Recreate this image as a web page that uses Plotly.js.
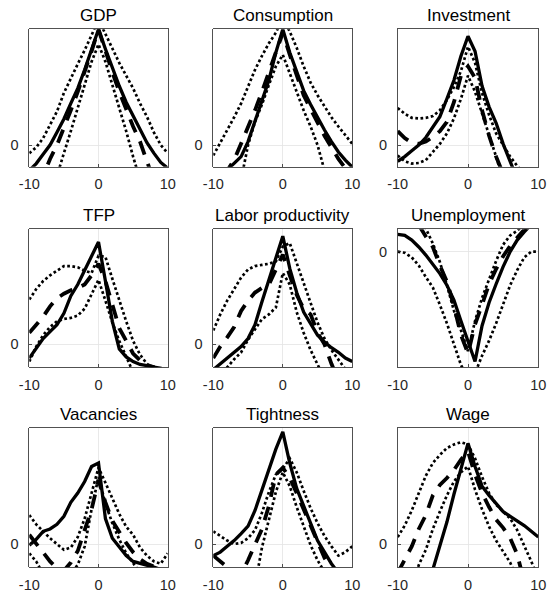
<!DOCTYPE html>
<html>
<head>
<meta charset="utf-8">
<script src="https://cdn.plot.ly/plotly-3.0.1.min.js"></script>
<style>
  html, body { margin: 0; padding: 0; background: #fff; }
  #chart { width: 556px; height: 597px; }
</style>
</head>
<body>
<div id="chart"></div>
<script>
// Lags (quarters)
const lags = [-10,-9,-8,-7,-6,-5,-4,-3,-2,-1,0,1,2,3,4,5,6,7,8,9,10];

// Panel titles
const titles = ["GDP","Consumption","Investment","TFP","Labor productivity","Unemployment","Vacancies","Tightness","Wage"];

// tick labels
const xTickVals = [-10, 0, 10];
const xTickText = ["-10", "0", "10"];
const yTickVals = [0];
const yTickText = ["0"];

// GDP
const gdpData  = [-0.22,-0.16,-0.08,0.0,0.11,0.225,0.36,0.49,0.65,0.83,1.0,0.83,0.66,0.51,0.37,0.25,0.13,0.02,-0.07,-0.15,-0.2];
const gdpModel = [-0.55,-0.4,-0.26,-0.12,0.0,0.14,0.3,0.46,0.63,0.81,1.0,0.81,0.63,0.46,0.3,0.16,0.03,-0.17,-0.33,-0.5,-0.65];
const gdpUpper = [-0.07,-0.02,0.06,0.17,0.29,0.45,0.58,0.7,0.82,0.96,1.08,0.96,0.83,0.71,0.6,0.49,0.36,0.245,0.11,0.0,-0.07];
const gdpLower = [-1.05,-0.85,-0.65,-0.45,-0.25,-0.07,0.12,0.33,0.52,0.72,0.87,0.72,0.52,0.33,0.12,-0.1,-0.32,-0.55,-0.75,-0.95,-1.1];

// Consumption
const conData  = [-0.33,-0.27,-0.21,-0.15,-0.1,0.03,0.2,0.37,0.56,0.8,1.0,0.8,0.63,0.47,0.35,0.235,0.13,0.03,-0.06,-0.13,-0.19];
const conModel = [-0.45,-0.33,-0.22,-0.13,0.01,0.155,0.3,0.46,0.63,0.8,0.97,0.78,0.6,0.43,0.31,0.19,0.08,-0.02,-0.12,-0.2,-0.28];
const conUpper = [-0.09,0.02,0.12,0.24,0.36,0.5,0.65,0.77,0.88,0.97,1.1,0.98,0.84,0.68,0.54,0.43,0.33,0.24,0.16,0.08,0.01];
const conLower = [-1.0,-0.85,-0.7,-0.55,-0.3,0.0,0.2,0.35,0.52,0.68,0.78,0.62,0.45,0.3,0.16,0.0,-0.22,-0.45,-0.65,-0.85,-1.0];

// Investment
const invData  = [-0.14,-0.1,-0.05,0.0,0.065,0.15,0.245,0.4,0.56,0.77,0.94,0.81,0.51,0.33,0.19,0.01,-0.15,-0.3,-0.45,-0.6,-0.75];
const invModel = [0.12,0.06,0.02,0.01,0.03,0.07,0.12,0.2,0.37,0.6,0.68,0.58,0.3,0.08,-0.1,-0.25,-0.4,-0.55,-0.7,-0.85,-1.0];
const invUpper = [0.32,0.27,0.235,0.23,0.235,0.25,0.3,0.39,0.5,0.64,0.85,0.71,0.45,0.26,0.1,0.0,-0.1,-0.18,-0.25,-0.32,-0.4];
const invLower = [-0.09,-0.14,-0.16,-0.155,-0.13,-0.06,0.01,0.1,0.23,0.4,0.6,0.46,0.28,0.1,-0.1,-0.3,-0.5,-0.7,-0.9,-1.1,-1.3];

// TFP
const tfpData  = [-0.12,-0.03,0.05,0.11,0.17,0.27,0.42,0.52,0.64,0.77,0.89,0.55,0.2,-0.04,-0.11,-0.15,-0.175,-0.185,-0.195,-0.25,-0.3];
const tfpModel = [0.1,0.17,0.24,0.33,0.4,0.44,0.47,0.49,0.52,0.6,0.7,0.55,0.35,0.14,0.03,-0.08,-0.14,-0.18,-0.2,-0.21,-0.22];
const tfpUpper = [0.39,0.48,0.55,0.6,0.64,0.68,0.68,0.67,0.64,0.62,0.77,0.76,0.57,0.38,0.2,0.03,-0.09,-0.17,-0.22,-0.26,-0.3];
const tfpLower = [-0.15,-0.02,0.08,0.15,0.2,0.22,0.23,0.25,0.31,0.43,0.56,0.38,0.19,0.03,-0.12,-0.25,-0.38,-0.5,-0.6,-0.7,-0.8];

// Labor productivity
const lpData  = [-0.22,-0.17,-0.12,-0.07,-0.02,0.05,0.17,0.37,0.56,0.76,0.94,0.66,0.45,0.28,0.18,0.08,0.02,-0.03,-0.07,-0.12,-0.15];
const lpModel = [-0.12,-0.02,0.06,0.15,0.29,0.38,0.45,0.49,0.52,0.65,0.78,0.6,0.43,0.31,0.26,0.1,0.0,-0.17,-0.3,-0.45,-0.6];
const lpUpper = [0.12,0.26,0.38,0.48,0.58,0.65,0.68,0.69,0.7,0.72,0.85,0.88,0.7,0.53,0.36,0.19,0.05,-0.05,-0.14,-0.22,-0.3];
const lpLower = [-0.4,-0.3,-0.2,-0.13,-0.07,0.04,0.13,0.22,0.26,0.32,0.62,0.52,0.28,0.1,-0.05,-0.18,-0.3,-0.42,-0.55,-0.68,-0.8];

// Unemployment
const unData  = [0.15,0.14,0.1,0.04,-0.03,-0.11,-0.19,-0.29,-0.42,-0.6,-0.78,-0.95,-0.64,-0.44,-0.28,-0.13,0.0,0.1,0.17,0.24,0.3];
const unModel = [0.6,0.47,0.35,0.23,0.13,0.04,-0.12,-0.26,-0.47,-0.72,-0.88,-0.63,-0.46,-0.28,-0.15,-0.04,0.05,0.12,0.19,0.24,0.28];
const unUpper = [0.8,0.65,0.5,0.35,0.2,0.07,-0.09,-0.29,-0.51,-0.68,-0.86,-0.6,-0.4,-0.24,-0.08,0.06,0.14,0.18,0.24,0.3,0.36];
const unLower = [0.0,-0.01,-0.05,-0.12,-0.22,-0.31,-0.46,-0.62,-0.8,-0.98,-1.1,-1.05,-0.9,-0.77,-0.62,-0.45,-0.29,-0.16,-0.05,0.0,0.0];

// Vacancies
const vacData  = [-0.01,0.04,0.11,0.13,0.17,0.24,0.36,0.44,0.54,0.67,0.7,0.22,0.05,-0.03,-0.1,-0.15,-0.165,-0.18,-0.2,-0.22,-0.25];
const vacModel = [0.08,0.0,-0.07,-0.15,-0.21,-0.23,-0.16,-0.06,0.12,0.3,0.55,0.36,0.2,0.1,0.01,-0.07,-0.13,-0.17,-0.2,-0.22,-0.24];
const vacUpper = [0.25,0.17,0.11,0.05,0.0,-0.05,-0.03,0.06,0.22,0.45,0.66,0.53,0.4,0.26,0.15,0.08,-0.03,-0.1,-0.15,-0.17,-0.08];
const vacLower = [-0.08,-0.15,-0.26,-0.32,-0.34,-0.32,-0.25,-0.18,-0.02,0.3,0.58,0.35,0.18,0.04,-0.08,-0.17,-0.25,-0.33,-0.4,-0.47,-0.55];

// Tightness
const tigData  = [-0.1,-0.07,-0.02,0.03,0.09,0.155,0.29,0.47,0.65,0.82,0.97,0.7,0.48,0.33,0.18,0.03,-0.07,-0.17,-0.25,-0.33,-0.4];
const tigModel = [-0.1,-0.15,-0.2,-0.28,-0.26,-0.14,0.0,0.13,0.33,0.6,0.66,0.57,0.44,0.3,0.15,0.0,-0.12,-0.22,-0.3,-0.38,-0.45];
const tigUpper = [0.11,0.07,0.03,0.0,0.01,0.05,0.12,0.27,0.45,0.6,0.65,0.74,0.62,0.46,0.31,0.18,0.07,-0.02,-0.1,-0.07,-0.02];
const tigLower = [-0.9,-0.8,-0.72,-0.62,-0.5,-0.5,-0.36,-0.03,0.2,0.45,0.62,0.5,0.32,0.15,-0.01,-0.14,-0.25,-0.35,-0.45,-0.55,-0.65];

// Wage
const wagData  = [-1.8,-1.5,-1.2,-0.9,-0.55,-0.22,-0.01,0.19,0.43,0.65,0.87,0.67,0.5,0.42,0.35,0.28,0.24,0.2,0.16,0.11,0.06];
const wagModel = [-0.25,-0.13,-0.02,0.13,0.25,0.42,0.51,0.57,0.64,0.73,0.8,0.6,0.44,0.32,0.21,0.14,0.05,-0.09,-0.32,-0.55,-0.8];
const wagUpper = [0.06,0.16,0.29,0.44,0.59,0.7,0.77,0.83,0.86,0.88,0.86,0.74,0.58,0.44,0.34,0.28,0.22,0.12,-0.01,-0.15,-0.3];
const wagLower = [-0.8,-0.6,-0.4,-0.18,-0.05,0.13,0.28,0.42,0.54,0.62,0.67,0.47,0.3,0.15,0.03,-0.06,-0.16,-0.3,-0.45,-0.6,-0.75];

const panels = [
  [gdpData, gdpModel, gdpUpper, gdpLower],
  [conData, conModel, conUpper, conLower],
  [invData, invModel, invUpper, invLower],
  [tfpData, tfpModel, tfpUpper, tfpLower],
  [lpData, lpModel, lpUpper, lpLower],
  [unData, unModel, unUpper, unLower],
  [vacData, vacModel, vacUpper, vacLower],
  [tigData, tigModel, tigUpper, tigLower],
  [wagData, wagModel, wagUpper, wagLower]
];

// y ranges per panel
const yRanges = [
  [-0.187, 1], [-0.187, 1], [-0.187, 1],
  [-0.2, 1], [-0.2, 1], [-1, 0.193],
  [-0.201, 1], [-0.201, 1], [-0.201, 1]
];

// Layout geometry (pixels)
const W = 556, H = 597;
const colL = [29.3, 213.3, 397.7], colR = [167.7, 352.3, 538.3];
const rowT = [29.3, 229.3, 428.3], rowB = [166.7, 367.3, 567.3];

const traces = [];
const layout = {
  width: W, height: H,
  margin: {l: 0, r: 0, t: 0, b: 0},
  paper_bgcolor: "#ffffff",
  plot_bgcolor: "#ffffff",
  showlegend: false,
  font: {family: "Liberation Sans, Arial, sans-serif", color: "#262626", size: 13},
  annotations: []
};

const styles = [
  {dash: "solid", width: 3.3},
  {dash: "14px,10px", width: 3.8},
  {dash: "2.7px,2.5px", width: 2.7},
  {dash: "2.7px,2.5px", width: 2.7}
];

panels.forEach((p, i) => {
  const r = Math.floor(i / 3), c = i % 3;
  const n = i === 0 ? "" : String(i + 1);
  const xa = "x" + n, ya = "y" + n;
  p.forEach((arr, k) => {
    traces.push({
      type: "scatter", mode: "lines",
      x: lags, y: arr,
      xaxis: xa, yaxis: ya,
      line: {color: "#000000", width: styles[k].width, dash: styles[k].dash},
      hoverinfo: "skip"
    });
  });
  const axBase = {
    showline: true, mirror: true, linecolor: "#262626", linewidth: 0.8,
    ticks: "inside", ticklen: 3, tickcolor: "#262626", tickwidth: 0.8,
    showgrid: true, gridcolor: "#e3e3e3", gridwidth: 0.8,
    zeroline: false, fixedrange: true,
    tickfont: {family: "Liberation Sans, Arial, sans-serif", size: 14.5, color: "#262626"}
  };
  layout["xaxis" + n] = Object.assign({}, axBase, {
    domain: [colL[c] / W, colR[c] / W],
    range: [-10, 10],
    tickmode: "array", tickvals: xTickVals, ticktext: xTickText,
    anchor: ya, ticklabelstandoff: 4
  });
  layout["yaxis" + n] = Object.assign({}, axBase, {
    domain: [1 - rowB[r] / H, 1 - rowT[r] / H],
    range: yRanges[i],
    tickmode: "array", tickvals: yTickVals, ticktext: yTickText,
    anchor: xa, ticklabelstandoff: 7
  });
  layout.annotations.push({
    xref: "paper", yref: "paper",
    x: (colL[c] + colR[c]) / 2 / W,
    y: 1 - rowT[r] / H,
    xanchor: "center", yanchor: "bottom", yshift: 2,
    showarrow: false,
    text: titles[i],
    font: {family: "Liberation Sans, Arial, sans-serif", size: 17, color: "#000000"}
  });
});

Plotly.newPlot("chart", traces, layout, {staticPlot: true, displayModeBar: false});
</script>
</body>
</html>
